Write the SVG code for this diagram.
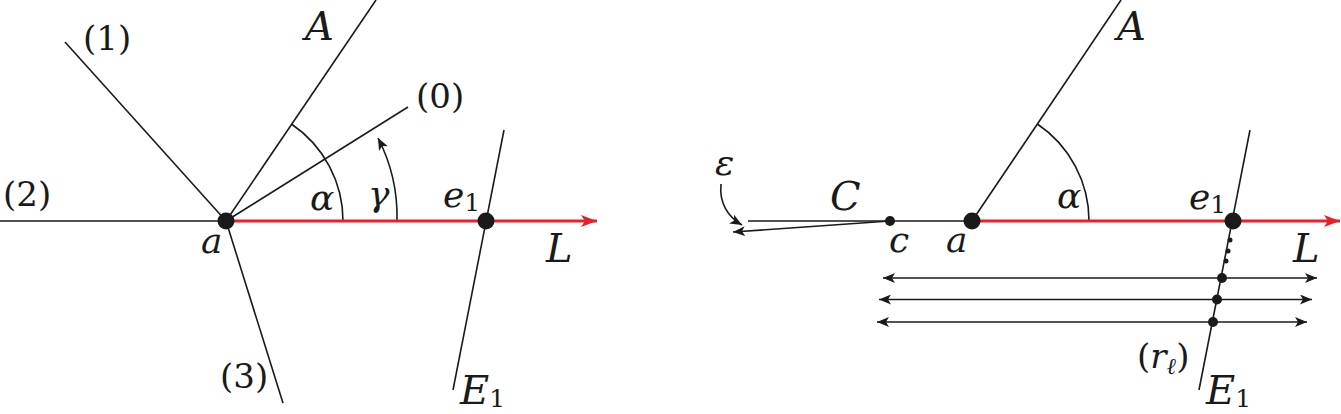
<svg xmlns="http://www.w3.org/2000/svg" width="1341" height="414" viewBox="0 0 1341 414">
<style>
.ln{stroke:#1a1a1a;stroke-width:1.6;fill:none}
.red{stroke:#e8202a;stroke-width:3.2;fill:none}
text{font-family:'DejaVu Serif',serif;fill:#1a1a1a}
.m{font-style:italic}
.n{font-size:34px}
.big{font-size:40px}
.sm{font-size:36px}
.sub{font-size:25px;font-style:normal}
.dot{fill:#1a1a1a}
</style>
<defs>
<marker id="ah" markerUnits="userSpaceOnUse" markerWidth="14" markerHeight="10" refX="12" refY="5" orient="auto-start-reverse">
<path d="M0,0 L12,5 L0,10 L3,5 Z" fill="#1a1a1a"/>
</marker>
<marker id="rh" markerUnits="userSpaceOnUse" markerWidth="18" markerHeight="14" refX="16" refY="7" orient="auto">
<path d="M0,1 L16,7 L0,13 L4,7 Z" fill="#e8202a"/>
</marker>
</defs>
<g id="connectors">
<line class="ln" x1="0" y1="221" x2="226" y2="221"/>
<line class="ln" x1="65" y1="42" x2="226" y2="221"/>
<line class="ln" x1="226" y1="221" x2="283" y2="403"/>
<line class="ln" x1="226" y1="221" x2="376" y2="0"/>
<line class="ln" x1="226" y1="221" x2="408" y2="107"/>
<path class="ln" d="M343,221 A117,117 0 0 0 291.4,124"/>
<path class="ln" d="M397,221 A171,171 0 0 0 378,138" marker-end="url(#ah)"/>
<line class="ln" x1="504" y1="130" x2="453" y2="390"/>
<line class="red" x1="226" y1="221" x2="597" y2="221" marker-end="url(#rh)"/>
<line class="ln" x1="748" y1="221" x2="972" y2="221"/>
<line class="ln" x1="890" y1="221" x2="733" y2="232" marker-end="url(#ah)"/>
<path class="ln" d="M721,184 C719,203 728,217 742,225" marker-end="url(#ah)"/>
<line class="ln" x1="972" y1="221" x2="1121" y2="0"/>
<path class="ln" d="M1089,221 A117,117 0 0 0 1037.4,124"/>
<line class="ln" x1="1250" y1="130" x2="1199" y2="390"/>
<line class="red" x1="972" y1="221" x2="1340" y2="221" marker-end="url(#rh)"/>
<line class="ln" x1="883" y1="278" x2="1317" y2="278" marker-start="url(#ah)" marker-end="url(#ah)"/>
<line class="ln" x1="879" y1="299.5" x2="1312" y2="299.5" marker-start="url(#ah)" marker-end="url(#ah)"/>
<line class="ln" x1="877" y1="322" x2="1307" y2="322" marker-start="url(#ah)" marker-end="url(#ah)"/>
</g>
<g id="node-a-left"><circle class="dot" cx="226" cy="221" r="8.5"/><text class="m sm" x="201" y="253">a</text></g>
<g id="node-e1-left"><circle class="dot" cx="486" cy="221" r="8.5"/><text class="m sm" x="443" y="207">e<tspan class="sub" dy="4">1</tspan></text></g>
<g id="labels-left">
<text class="n" x="83" y="50">(1)</text>
<text class="n" x="416" y="108">(0)</text>
<text class="n" x="3" y="206">(2)</text>
<text class="n" x="220" y="388">(3)</text>
<text class="m big" x="305" y="40">A</text>
<text class="m sm" x="310" y="210">α</text>
<text class="m sm" x="368" y="206">γ</text>
<text class="m big" x="546" y="262">L</text>
<text class="m big" x="460" y="404">E<tspan class="sub" dy="3">1</tspan></text>
</g>
<g id="node-c"><circle class="dot" cx="890" cy="221" r="5"/><text class="m sm" x="889" y="252">c</text></g>
<g id="node-a-right"><circle class="dot" cx="972" cy="221" r="8.5"/><text class="m sm" x="946" y="252">a</text></g>
<g id="node-e1-right"><circle class="dot" cx="1233" cy="221" r="8.5"/><text class="m sm" x="1189" y="209">e<tspan class="sub" dy="4">1</tspan></text></g>
<g id="points-r">
<circle class="dot" cx="1230" cy="240" r="2.5"/>
<circle class="dot" cx="1228" cy="251" r="2.5"/>
<circle class="dot" cx="1226" cy="261" r="2.5"/>
<circle class="dot" cx="1222" cy="278" r="5"/>
<circle class="dot" cx="1217" cy="299.5" r="5"/>
<circle class="dot" cx="1213" cy="322" r="5"/>
</g>
<g id="labels-right">
<text class="m sm" x="715" y="175">ε</text>
<text class="m big" x="830" y="210">C</text>
<text class="m big" x="1117" y="40">A</text>
<text class="m sm" x="1057" y="208">α</text>
<text class="m big" x="1293" y="262">L</text>
<text class="n" x="1137" y="368">(<tspan class="m">r</tspan><tspan class="m" font-size="23" dy="6">ℓ</tspan><tspan dy="-6">)</tspan></text>
<text class="m big" x="1206" y="404">E<tspan class="sub" dy="3">1</tspan></text>
</g>
</svg>
